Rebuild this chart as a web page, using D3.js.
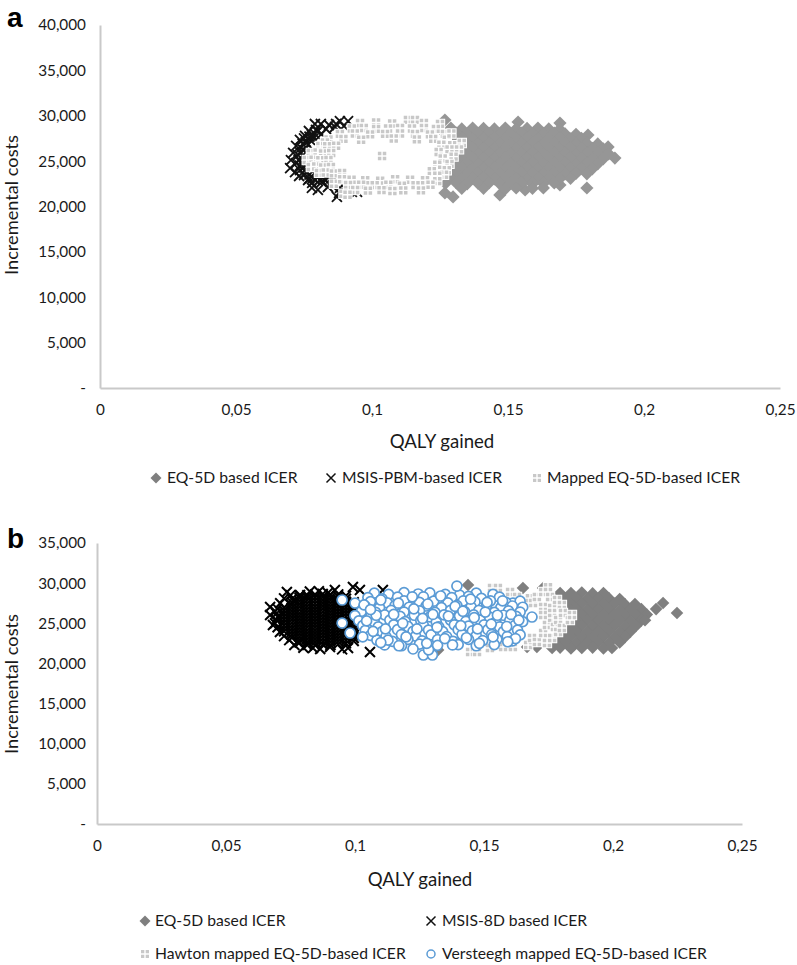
<!DOCTYPE html>
<html>
<head>
<meta charset="utf-8">
<script src="https://cdn.jsdelivr.net/npm/d3@7"></script>
<style>
  html, body { margin: 0; background: #fff; }
  text { font-family: Lato, "Open Sans", sans-serif; fill: #1a1a1a; }
</style>
</head>
<body>
<div id="root"></div>
<script>
// Tick labels
const aCostTicks = [0, 5000, 10000, 15000, 20000, 25000, 30000, 35000, 40000];
const bCostTicks = [0, 5000, 10000, 15000, 20000, 25000, 30000, 35000];
const qalyTicks = [0, 0.05, 0.1, 0.15, 0.2, 0.25];
const qalyLabels = ["0", "0,05", "0,1", "0,15", "0,2", "0,25"];

// Panel a, [QALY gained, incremental costs]
const aDiamond = [
  [.1268,29530],[.1537,29310],[.1691,29200],[.1794,27880],[.1868,26560],[.1893,25340],[.179,22040],[.1298,21050],[.1268,21490],[.1691,22370],[.147,21270],[.1563,21820],
  [.125,28600],[.129,28650],[.133,28550],[.137,28650],[.141,28600],[.145,28550],[.149,28650],[.153,28550],[.157,28600],[.161,28650],[.165,28550],[.169,28500],
  [.127,28050],[.131,28100],[.135,28000],[.139,28050],[.143,28100],[.147,28000],[.151,28050],[.155,28100],[.159,28000],[.163,28050],[.167,28100],[.171,28000],[.175,27950],
  [.129,27500],[.133,27550],[.137,27450],[.141,27500],[.145,27550],[.149,27450],[.153,27500],[.157,27550],[.161,27450],[.165,27500],[.169,27550],[.173,27450],[.177,27500],
  [.131,26950],[.135,27000],[.139,26900],[.143,26950],[.147,27000],[.151,26900],[.155,26950],[.159,27000],[.163,26900],[.167,26950],[.171,27000],[.175,26900],[.179,26950],[.183,26900],
  [.133,26400],[.137,26450],[.141,26350],[.145,26400],[.149,26450],[.153,26350],[.157,26400],[.161,26450],[.165,26350],[.169,26400],[.173,26450],[.177,26350],[.181,26400],[.185,26350],
  [.131,25850],[.135,25900],[.139,25800],[.143,25850],[.147,25900],[.151,25800],[.155,25850],[.159,25900],[.163,25800],[.167,25850],[.171,25900],[.175,25800],[.179,25850],[.183,25900],[.187,25800],
  [.133,25300],[.137,25350],[.141,25250],[.145,25300],[.149,25350],[.153,25250],[.157,25300],[.161,25350],[.165,25250],[.169,25300],[.173,25350],[.177,25250],[.181,25300],[.185,25250],
  [.131,24750],[.135,24800],[.139,24700],[.143,24750],[.147,24800],[.151,24700],[.155,24750],[.159,24800],[.163,24700],[.167,24750],[.171,24800],[.175,24700],[.179,24750],[.183,24700],
  [.129,24200],[.133,24250],[.137,24150],[.141,24200],[.145,24250],[.149,24150],[.153,24200],[.157,24250],[.161,24150],[.165,24200],[.169,24250],[.173,24150],[.177,24200],[.181,24150],
  [.127,23650],[.131,23700],[.135,23600],[.139,23650],[.143,23700],[.147,23600],[.151,23650],[.155,23700],[.159,23600],[.163,23650],[.167,23700],[.171,23600],[.175,23650],[.179,23600],
  [.125,23100],[.129,23150],[.133,23050],[.137,23100],[.141,23150],[.145,23050],[.149,23100],[.153,23150],[.157,23050],[.161,23100],[.165,23150],[.169,23050],[.173,23100],
  [.127,22550],[.131,22600],[.135,22500],[.139,22550],[.143,22600],[.147,22500],[.151,22550],[.155,22600],[.159,22500],[.163,22550],[.167,22600],
  [.133,22000],[.141,22000],[.149,21950],[.153,22050],[.159,22000],[.163,22050]
];
const aCross = [
  [.0882,29420],[.0912,29420],[.0897,28870],[.0868,29090],[.0842,28980],[.0812,29090],[.079,29090],[.0831,28540],[.0864,28760],[.0794,28430],
  [.0768,28320],[.0754,27770],[.0779,27880],[.0735,27330],[.0757,27110],[.0721,26670],[.0739,26450],[.071,25900],[.0728,25670],[.0702,25120],
  [.0721,24790],[.0699,24240],[.0717,23800],[.0735,24020],[.0732,23360],[.075,23470],[.0765,22920],[.0783,23140],[.0801,23250],[.0779,22040],
  [.0801,21820],[.082,23140],[.0838,23250],[.0857,22920],[.0879,21490],[.0871,21050],[.0882,22040],[.0926,21600],[.0945,21600],[.0838,22150],
  [.0772,27330],[.0801,28320],[.0746,25670],[.0746,24790],[.0757,23800],[.0785,27500],[.0815,28000],[.077,23500],[.0815,22700],[.0905,21850],
  [.0750,27500],[.0770,27700],[.0790,28000],[.0745,26900],[.0765,26800],[.0735,26000],[.0750,26200],[.0730,25100],[.0735,24500],[.0750,24300],
  [.0770,23100],[.0790,23000],[.0810,23000],[.0830,22900],[.0850,23100],[.0780,22600]
];
const aMapped = [
  [.0956,29200],[.1015,29250],[.1074,29150],[.1132,29550],[.1158,29550],[.1191,29200],[.1250,29100],
  [.0926,28600],[.097,28650],[.1015,28550],[.1059,28600],[.1103,28650],[.1147,28600],[.1191,28650],[.1235,28550],
  [.0882,28000],[.0937,28050],[.0993,27950],[.1048,28000],[.1103,28050],[.1158,28000],[.1213,27950],[.1268,28000],
  [.084,27400],[.0895,27450],[.096,27350],[.108,27500],[.1165,27400],[.1225,27450],[.1275,27350],[.1292,28050],
  [.0827,27050],[.0810,26670],[.0835,26650],[.0868,26700],[.1255,26800],[.1295,26750],
  [.0775,25900],[.0800,25950],[.0820,25850],[.0850,25900],[.1245,26000],[.1285,26300],[.1330,27000],[.1320,26300],
  [.0760,25120],[.0785,25150],[.0810,25100],[.0840,25120],[.1037,25560],[.1260,25300],[.1300,25500],
  [.0775,24350],[.0795,24400],[.0820,24300],[.0849,24350],[.1240,24600],[.1285,24700],[.1275,24000],
  [.0805,23700],[.0830,23750],[.0860,23650],[.0890,23700],[.1220,23900],[.1265,23500],[.1240,23400],
  [.0860,22500],[.0890,23000],[.0925,22950],[.0975,22900],[.1030,22850],[.1085,23000],[.1140,22950],[.1195,22900],[.1240,22800],
  [.0912,22370],[.0960,22400],[.1010,22350],[.1060,22400],[.1110,22300],[.1160,22350],[.1215,22400],
  [.0938,21820],[.0985,21750],[.1035,21800],[.1075,21700],[.1115,21780],[.1180,21780],[.0895,21400],[.0910,21300]
];

// Panel b, [QALY gained, incremental costs]
const bDiamond = [
  [.2167,26770],[.2194,27520],[.2248,26280],[.1651,29390],[.1729,29390],[.1667,22040],[.1705,22040],[.1438,29760],[.1322,21670],
  [.1795,28770],[.1837,28770],[.1879,28830],[.1921,28720],[.1963,28770],
  [.1816,28080],[.1858,28130],[.19,28030],[.1942,28080],[.1984,28130],[.2026,28030],
  [.1837,27400],[.1879,27450],[.1921,27350],[.1963,27400],[.2005,27450],[.2047,27350],[.2085,27400],
  [.1835,26710],[.1858,26760],[.19,26660],[.1942,26710],[.1984,26760],[.2026,26660],[.2068,26710],[.211,26760],
  [.1845,26030],[.1879,26080],[.1921,25980],[.1963,26030],[.2005,26080],[.2047,25980],[.2089,26030],[.2131,26080],
  [.1858,25340],[.19,25390],[.1942,25290],[.1984,25340],[.2026,25390],[.2068,25290],[.211,25340],[.2124,25390],
  [.1837,24660],[.1879,24710],[.1921,24610],[.1963,24660],[.2005,24710],[.2047,24610],[.2089,24660],
  [.1816,23970],[.1858,24020],[.19,23920],[.1942,23970],[.1984,24020],[.2026,23920],[.2068,23970],
  [.1795,23290],[.1837,23340],[.1879,23240],[.1921,23290],[.1963,23340],[.2005,23240],[.2047,23290],
  [.1774,22600],[.1816,22650],[.1858,22550],[.19,22600],[.1942,22650],[.1984,22550],[.2026,22600],
  [.1764,21920],[.1795,21970],[.1837,21870],[.1879,21920],[.1921,21970],[.1963,21870],[.1996,21920]
];
const bCross = [
  [.0736,28890],[.0671,27020],[.0671,26030],[.0682,24780],[.0709,23910],[.0767,27900],[.0779,22670],[.0837,21920],[.0903,22040],[.0973,21920],
  [.1058,21420],[.0922,29140],[.0992,29510],[.1019,29140],[.0895,28770],[.0787,28520],[.1108,29140],[.069,26500],[.0695,25400],[.0725,23400],
  [.0700,26800],[.0695,26200],[.0700,25800],[.0690,25000],[.0700,24500],[.0710,27500],[.0725,28100],[.0750,28500],[.0745,22900],[.0765,22300],[.0800,21950],[.0865,21800],[.0950,21750],[.0860,29000],[.0825,28950],
  [.0725,24000],[.0725,24370],[.0725,24740],[.0725,25110],[.0725,25480],[.0725,25850],[.0725,26220],[.0725,26590],[.0725,26960],
  [.0755,23200],[.0755,23570],[.0755,23940],[.0755,24310],[.0755,24680],[.0755,25050],[.0755,25420],[.0755,25790],[.0755,26160],[.0755,26530],[.0755,26900],[.0755,27270],[.0755,27640],[.0755,28010],
  [.0785,22600],[.0785,22970],[.0785,23340],[.0785,23710],[.0785,24080],[.0785,24450],[.0785,24820],[.0785,25190],[.0785,25560],[.0785,25930],[.0785,26300],[.0785,26670],[.0785,27040],[.0785,27410],[.0785,27780],[.0785,28150],[.0785,28450],
  [.0815,22300],[.0815,22670],[.0815,23040],[.0815,23410],[.0815,23780],[.0815,24150],[.0815,24520],[.0815,24890],[.0815,25260],[.0815,25630],[.0815,26000],[.0815,26370],[.0815,26740],[.0815,27110],[.0815,27480],[.0815,27850],[.0815,28220],[.0815,28500],
  [.0845,22300],[.0845,22670],[.0845,23040],[.0845,23410],[.0845,23780],[.0845,24150],[.0845,24520],[.0845,24890],[.0845,25260],[.0845,25630],[.0845,26000],[.0845,26370],[.0845,26740],[.0845,27110],[.0845,27480],[.0845,27850],[.0845,28220],[.0845,28590],
  [.0875,22350],[.0875,22720],[.0875,23090],[.0875,23460],[.0875,23830],[.0875,24200],[.0875,24570],[.0875,24940],[.0875,25310],[.0875,25680],[.0875,26050],[.0875,26420],[.0875,26790],[.0875,27160],[.0875,27530],[.0875,27900],[.0875,28270],[.0875,28640],
  [.0905,22300],[.0905,22670],[.0905,23040],[.0905,23410],[.0905,23780],[.0905,24150],[.0905,24520],[.0905,24890],[.0905,25260],[.0905,25630],[.0905,26000],[.0905,26370],[.0905,26740],[.0905,27110],[.0905,27480],[.0905,27850],[.0905,28220],[.0905,28590],
  [.0935,22400],[.0935,22770],[.0935,23140],[.0935,23510],[.0935,23880],[.0935,24250],[.0935,24620],[.0935,24990],[.0935,25360],[.0935,25730],[.0935,26100],[.0935,26470],[.0935,26840],[.0935,27210],[.0935,27580],[.0935,27950],[.0935,28320],[.0935,28600],
  [.0965,22500],[.0965,22870],[.0965,23240],[.0965,23610],[.0965,23980],[.0965,24350],[.0965,24720],[.0965,25090],[.0965,25460],[.0965,25830],[.0965,26200],[.0965,26570],[.0965,26940],[.0965,27310],[.0965,27680],[.0965,28050],[.0965,28420],
  [.0995,22800],[.0995,23170],[.0995,23540],[.0995,23910],[.0995,24280],[.0995,24650],[.0995,25020],[.0995,25390],[.0995,25760],[.0995,26130],[.0995,26500],[.0995,26870],[.0995,27240],[.0995,27610]
];
const bMapped = [
  [.1446,21420],[.1473,21420],[.1523,21920],[.1531,29390],[.1554,29390],[.1574,22040],[.1601,28890],[.1612,22040],[.1628,28270],[.1671,22290],
  [.1678,28140],[.1686,23160],[.169,27520],[.1705,28270],[.1705,22670],[.1729,28890],[.1729,27020],[.1729,26030],[.1729,23790],[.1744,24780],
  [.1744,22540],[.1748,29510],[.1756,28270],[.1764,26900],[.1764,25650],[.1764,23160],[.1775,24530],[.1783,27900],[.1787,25400],[.1787,23910],
  [.1802,27270],[.1802,24410],[.1806,26280],[.1833,25400],[.1841,26030]
];
const bVersteegh = [
  [.1075,28750],[.1130,28600],[.1190,28820],[.1245,28650],[.1290,28780],[.1350,28600],[.1405,28520],[.1470,28750],[.1535,28600],
  [.1050,28200],[.1105,28050],[.1165,28250],[.1220,28100],[.1265,28300],[.1320,28050],[.1375,28200],[.1440,28350],[.1490,28100],[.1560,28250],[.1612,27520],
  [.0950,27900],[.1000,27520],[.1060,27700],[.1125,27550],[.1190,27800],[.1250,27600],[.1305,27750],[.1360,27550],[.1420,27800],[.1465,27650],[.1525,27800],[.1585,27600],[.1640,27750],
  [.1040,27100],[.1095,26950],[.1155,27200],[.1210,27000],[.1275,27150],[.1335,26950],[.1395,27200],[.1450,27050],[.1510,27200],[.1565,26950],[.1610,27150],[.1650,27000],
  [.1025,26500],[.1080,26350],[.1140,26600],[.1190,26400],[.1250,26550],[.1310,26350],[.1370,26600],[.1425,26450],[.1480,26600],[.1540,26350],[.1595,26550],[.1640,26400],
  [.1000,25950],[.1060,25800],[.1115,26050],[.1175,25850],[.1230,26000],[.1290,25800],[.1345,26050],[.1405,25900],[.1460,26050],[.1520,25800],[.1575,26000],[.1625,25850],[.1686,25780],
  [.0950,25030],[.1015,25300],[.1075,25150],[.1135,25400],[.1195,25200],[.1255,25350],[.1315,25150],[.1370,25400],[.1430,25250],[.1485,25400],[.1545,25150],[.1600,25350],[.1650,25200],
  [.1030,24700],[.1090,24550],[.1150,24800],[.1205,24600],[.1265,24750],[.1325,24550],[.1385,24800],[.1440,24650],[.1500,24800],[.1560,24550],[.1620,24750],
  [.0981,23790],[.1040,24100],[.1105,23950],[.1165,24200],[.1225,24000],[.1285,24150],[.1340,23950],[.1400,24200],[.1455,24050],[.1515,24200],[.1575,23950],[.1630,24150],
  [.1060,23500],[.1120,23350],[.1180,23600],[.1235,23400],[.1295,23550],[.1355,23350],[.1415,23600],[.1470,23450],[.1530,23600],[.1590,23350],[.1640,23550],
  [.1085,22900],[.1145,22750],[.1205,23000],[.1260,22800],[.1320,22950],[.1380,22750],[.1440,23000],[.1495,22850],[.1550,23000],[.1610,22800],
  [.1115,22300],[.1180,22200],[.1250,22400],[.1320,22250],[.1400,22350],[.1470,22200],[.1540,22350],
  [.1225,21800],[.1265,21050],[.1300,21050],[.1285,21700],[.1395,29640],
  [.1035,27300],[.1082,26000],[.1100,27900],[.1118,24300],[.1128,22900],[.1150,26100],[.1168,27500],[.1185,25000],[.1198,23300],[.1222,28300],
  [.1228,26800],[.1240,24300],[.1262,25600],[.1278,22500],[.1282,27400],[.1302,26100],[.1318,24500],[.1332,28400],[.1348,23100],[.1362,25900],
  [.1378,22300],[.1388,27100],[.1410,24700],[.1418,26500],[.1432,23200],[.1448,28000],[.1462,25700],[.1475,24300],[.1482,22500],[.1505,26400],
  [.1512,27600],[.1528,24900],[.1535,23300],[.1552,26000],[.1572,27800],[.1588,24600],[.1605,26100],[.1622,23100],[.1635,25400],[.1592,22700],
  [.1060,26700],[.1045,25300],[.1070,24000],[.1030,23300],[.1100,22600],[.1170,22200]
];

// Legend texts
const aLegend = ["EQ-5D based ICER", "MSIS-PBM-based ICER", "Mapped EQ-5D-based ICER"];
const bLegend = ["EQ-5D based ICER", "MSIS-8D based ICER", "Hawton mapped EQ-5D-based ICER", "Versteegh mapped EQ-5D-based ICER"];

const width = 797;
const height = 965;

const svg = d3
  .select("#root")
  .append("svg")
  .attr("width", width)
  .attr("height", height)
  .style("display", "block");

// Marker shapes, all centred on 0,0
function diamondPath(r) {
  return "M0," + -r + "L" + r + ",0L0," + r + "L" + -r + ",0Z";
}

function crossPath(r) {
  return "M" + -r + "," + -r + "L" + r + "," + r + "M" + -r + "," + r + "L" + r + "," + -r;
}

function mappedPath(r, gap) {
  const corners = [[-r, -r], [gap, -r], [-r, gap], [gap, gap]];
  const side = r - gap;
  return corners
    .map(c => "M" + c[0] + "," + c[1] + "h" + side + "v" + side + "h" + -side + "Z")
    .join("");
}

const styles = {
  diamond: (sel, color, size) => sel.attr("d", diamondPath(size)).attr("fill", color),
  cross: (sel, color, size, sw) => sel.attr("d", crossPath(size)).attr("fill", "none").attr("stroke", color).attr("stroke-width", sw),
  mapped: (sel, color, size) => sel.attr("d", mappedPath(size, 0.7)).attr("fill", color).attr("stroke", "#fff").attr("stroke-width", 2).style("paint-order", "stroke"),
  ring: (sel, color, size, sw) => sel.attr("d", d3.symbol().type(d3.symbolCircle).size(Math.PI * size * size)()).attr("fill", "#fff").attr("stroke", color).attr("stroke-width", sw)
};

function drawPoints(g, x, y, data, kind, color, size, sw) {
  g.append("g")
    .attr("class", kind)
    .selectAll("path")
    .data(data)
    .enter()
    .append("path")
    .attr("transform", d => "translate(" + x(d[0]) + "," + y(d[1]) + ")")
    .call(styles[kind], color, size, sw);
}

function drawPanel(p) {
  const x = d3.scaleLinear().domain([0, 0.25]).range([p.left, p.right]);
  const y = d3.scaleLinear().domain([0, p.maxCost]).range([p.bottom, p.top]);

  const yAxis = d3
    .axisLeft(y)
    .tickValues(p.costTicks)
    .tickSize(0)
    .tickPadding(p.left - 86)
    .tickFormat(d => (d === 0 ? "-" : d3.format(",")(d)));

  const xAxis = d3
    .axisBottom(x)
    .tickValues(qalyTicks)
    .tickSize(0)
    .tickPadding(16)
    .tickFormat((d, i) => qalyLabels[i]);

  const axisColor = "#c9c9c9";
  const gy = svg.append("g").attr("transform", "translate(" + p.left + ",0)").call(yAxis);
  const gx = svg.append("g").attr("transform", "translate(0," + p.bottom + ")").call(xAxis);
  [gx, gy].forEach(a => {
    a.select(".domain").attr("stroke", axisColor).attr("stroke-width", 2);
    a.selectAll("text").style("font-size", "15.3px").style("font-family", "Lato");
  });

  p.series.forEach(s => drawPoints(svg, x, y, s.data, s.kind, s.color, s.size, s.sw));

  svg.append("text")
    .attr("transform", "translate(" + p.yTitleX + "," + p.yTitleY + ") rotate(-90)")
    .attr("text-anchor", "middle")
    .style("font-size", "18.2px")
    .text("Incremental costs");

  svg.append("text")
    .attr("x", p.xTitleX)
    .attr("y", p.xTitleY)
    .attr("text-anchor", "middle")
    .style("font-size", "18.6px")
    .text("QALY gained");

  svg.append("text")
    .attr("x", 7)
    .attr("y", p.letterY)
    .style("font-family", "'Liberation Sans'")
    .style("font-weight", "bold")
    .style("font-size", "28px")
    .style("fill", "#000")
    .text(p.letter);

  p.legend.forEach(l => {
    svg.append("path")
      .attr("transform", "translate(" + l.mx + "," + l.y + ")")
      .call(styles[l.kind], l.color, l.size, l.sw);
    svg.append("text")
      .attr("x", l.tx)
      .attr("y", l.y)
      .attr("dy", "0.35em")
      .style("font-size", "15.7px")
      .text(l.label);
  });
}

const dark = "#7f7f7f";
const grey = "#969696";
const light = "#c8c8c8";
const blue = "#5b9bd5";

// a
drawPanel({
  letter: "a",
  letterY: 27,
  left: 100,
  right: 780,
  top: 25,
  bottom: 388,
  maxCost: 40000,
  costTicks: aCostTicks,
  yTitleX: 18,
  yTitleY: 205,
  xTitleX: 442,
  xTitleY: 448,
  series: [
    { data: aDiamond, kind: "diamond", color: grey, size: 6.6 },
    { data: aCross, kind: "cross", color: "#111", size: 5, sw: 1.8 },
    { data: aMapped, kind: "mapped", color: light, size: 4.2 }
  ],
  legend: [
    { mx: 156, tx: 167, y: 478, kind: "diamond", color: dark, size: 5.5, label: aLegend[0] },
    { mx: 331, tx: 342, y: 478, kind: "cross", color: "#111", size: 4.5, sw: 1.5, label: aLegend[1] },
    { mx: 537, tx: 547, y: 478, kind: "mapped", color: light, size: 4, label: aLegend[2] }
  ]
});

// b
drawPanel({
  letter: "b",
  letterY: 548,
  left: 97,
  right: 742,
  top: 543,
  bottom: 824,
  maxCost: 35000,
  costTicks: bCostTicks,
  yTitleX: 18,
  yTitleY: 684,
  xTitleX: 420,
  xTitleY: 886,
  series: [
    { data: bDiamond, kind: "diamond", color: dark, size: 6.3 },
    { data: bCross, kind: "cross", color: "#000", size: 5, sw: 2 },
    { data: bMapped, kind: "mapped", color: light, size: 4.2 },
    { data: bVersteegh, kind: "ring", color: blue, size: 5, sw: 1.7 }
  ],
  legend: [
    { mx: 145, tx: 155, y: 921, kind: "diamond", color: dark, size: 5.5, label: bLegend[0] },
    { mx: 431, tx: 442, y: 921, kind: "cross", color: "#111", size: 4.5, sw: 1.5, label: bLegend[1] },
    { mx: 145, tx: 155, y: 954, kind: "mapped", color: light, size: 4, label: bLegend[2] },
    { mx: 431, tx: 442, y: 954, kind: "ring", color: blue, size: 4, sw: 1.5, label: bLegend[3] }
  ]
});
</script>
</body>
</html>
